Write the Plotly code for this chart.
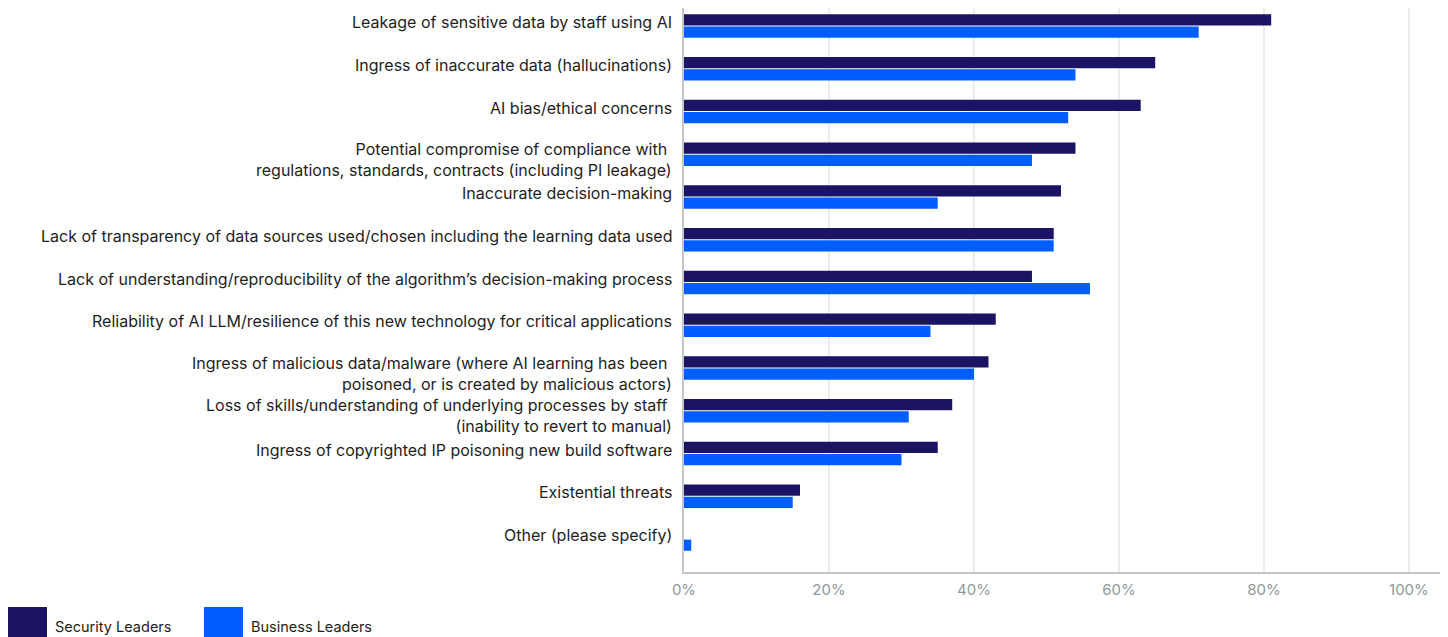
import plotly.graph_objects as go

categories = [
    "Leakage of sensitive data by staff using AI",
    "Ingress of inaccurate data (hallucinations)",
    "AI bias/ethical concerns",
    "Potential compromise of compliance with <br>regulations, standards, contracts (including PI leakage)",
    "Inaccurate decision-making",
    "Lack of transparency of data sources used/chosen including the learning data used",
    "Lack of understanding/reproducibility of the algorithm\u2019s decision-making process",
    "Reliability of AI LLM/resilience of this new technology for critical applications",
    "Ingress of malicious data/malware (where AI learning has been <br>poisoned, or is created by malicious actors)",
    "Loss of skills/understanding of underlying processes by staff <br>(inability to revert to manual)",
    "Ingress of copyrighted IP poisoning new build software",
    "Existential threats",
    "Other (please specify)",
]
security_leaders = [81, 65, 63, 54, 52, 51, 48, 43, 42, 37, 35, 16, 0]
business_leaders = [71, 54, 53, 48, 35, 51, 56, 34, 40, 31, 30, 15, 1]
series_names = ["Security Leaders", "Business Leaders"]
series_colors = ["#1b1464", "#005eff"]
x_ticks = [0, 20, 40, 60, 80, 100]
x_tick_labels = ["0%", "20%", "40%", "60%", "80%", "100%"]

# page body has an 8px margin: figure is drawn at (8, 8)
OFF = 8
W, H = 1448 - OFF, 637 - OFF
L, R, T, B = 684 - OFF, 5, 0, 65
FONT = "Inter"

fig = go.Figure()
for name, vals, col in zip(series_names, [security_leaders, business_leaders], series_colors):
    fig.add_trace(go.Bar(
        y=categories, x=vals, orientation="h", name=name,
        marker=dict(color=col, line=dict(width=0)), showlegend=False,
    ))

fig.update_layout(
    width=W, height=H,
    margin=dict(l=L, r=R, t=T, b=B, autoexpand=False),
    paper_bgcolor="white", plot_bgcolor="white",
    barmode="group", bargap=0.42, bargroupgap=0.1,
    font=dict(family=FONT, size=16, color="#1e1e1e"),
)
fig.update_xaxes(
    range=[0, 104.7], tickmode="array", tickvals=x_ticks, ticktext=x_tick_labels,
    showgrid=True, gridcolor="#ececec", gridwidth=1.5,
    zeroline=False, showline=True, linecolor="#c3c7ca", linewidth=2,
    tickfont=dict(family=FONT, size=15, color="#8e999b"),
    ticks="", ticklabelstandoff=3,
)
fig.update_yaxes(
    categoryorder="array", categoryarray=categories,
    range=[12.772, -0.421],
    showgrid=False, zeroline=False, showline=True, linecolor="#c3c7ca", linewidth=2,
    ticks="", showticklabels=False,
)

# category labels as annotations so multi-line labels can sit like the reference
for cat in categories:
    two_line = "<br>" in cat
    fig.add_annotation(
        xref="paper", yref="y", x=0, y=cat, text=cat, showarrow=False,
        xanchor="right", yanchor="middle", align="right",
        xshift=-10, yshift=-5 if two_line else 4,
        font=dict(family=FONT, size=16, color="#1e1e1e"),
    )

# legend drawn below the plot with large square swatches
pw = W - L - R
ph = H - T - B
def px_x(px):
    return (px - OFF - L) / pw
def px_y(py):
    return (H - B - (py - OFF)) / ph

legend_x = [8, 204]
for i, (name, col) in enumerate(zip(series_names, series_colors)):
    x0 = legend_x[i]
    fig.add_shape(type="rect", xref="paper", yref="paper",
                  x0=px_x(x0), x1=px_x(x0 + 39), y0=px_y(637), y1=px_y(607),
                  fillcolor=col, line=dict(width=0), layer="above")
    fig.add_annotation(xref="paper", yref="paper", x=px_x(x0 + 45), y=px_y(626),
                       text=name, showarrow=False, xanchor="left", yanchor="middle",
                       font=dict(family=FONT, size=14.5, color="#1e1e1e"))

fig.write_html("out.html")
